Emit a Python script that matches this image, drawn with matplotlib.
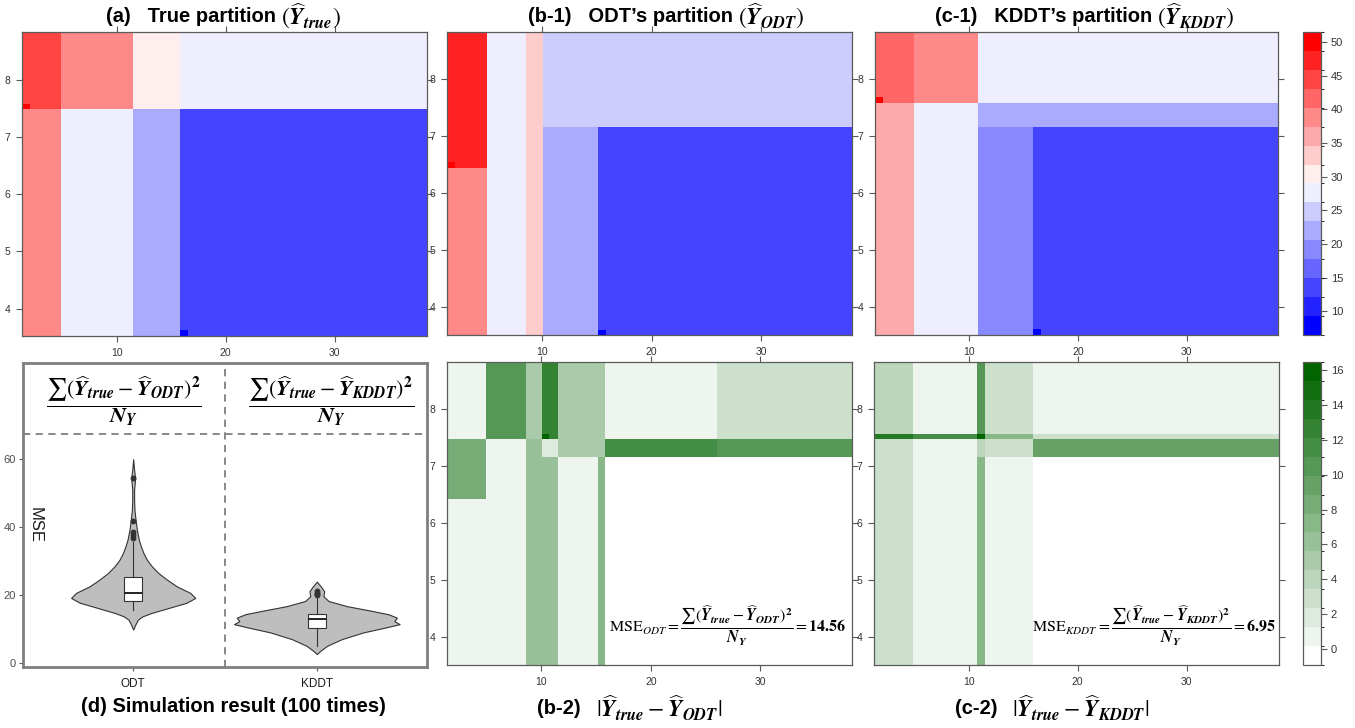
import matplotlib
matplotlib.use("Agg")
import matplotlib.pyplot as plt
import numpy as np
from matplotlib.cm import ScalarMappable
from matplotlib.colors import BoundaryNorm, LinearSegmentedColormap, ListedColormap

plt.rcParams["font.family"] = ["Liberation Sans", "DejaVu Sans"]
plt.rcParams["mathtext.fontset"] = "stix"

W, H = 1355, 728

# --- Partition maps (cell edges + values, rows bottom -> top) -------------
TRUE_X = [1.31, 2.07, 4.92, 11.5, 15.84, 16.5, 38.47]
TRUE_Y = [3.52, 3.62, 7.48, 7.57, 8.83]
TRUE_Z = [
    [39, 39, 27.5, 22, 8, 13.5],
    [39, 39, 27.5, 22, 13.5, 13.5],
    [50.5, 44.5, 39, 30.5, 27.5, 27.5],
    [44.5, 44.5, 39, 30.5, 27.5, 27.5],
]

ODT_X = [1.32, 2.05, 4.95, 8.57, 10.06, 15.14, 15.8, 38.3]
ODT_Y = [3.51, 3.6, 6.44, 6.54, 7.17, 8.83]
ODT_Z = [
    [39, 39, 27.5, 33, 22, 8, 13.5],
    [39, 39, 27.5, 33, 22, 13.5, 13.5],
    [50.5, 47, 27.5, 33, 22, 13.5, 13.5],
    [47, 47, 27.5, 33, 22, 13.5, 13.5],
    [47, 47, 27.5, 33, 25, 25, 25],
]

KDDT_X = [1.38, 2.1, 5.0, 10.8, 15.86, 16.6, 38.37]
KDDT_Y = [3.51, 3.61, 7.17, 7.59, 7.69, 8.83]
KDDT_Z = [
    [36, 36, 27.5, 19, 8, 13.5],
    [36, 36, 27.5, 19, 13.5, 13.5],
    [36, 36, 27.5, 22, 22, 22],
    [50.5, 41.5, 39, 27.5, 27.5, 27.5],
    [41.5, 41.5, 39, 27.5, 27.5, 27.5],
]

# |Y_true - Y_ODT|
DODT_X = [1.385, 4.97, 8.6, 10.06, 10.73, 11.53, 15.19, 15.83, 26.07, 38.37]
DODT_Y = [3.51, 6.43, 7.16, 7.48, 7.57, 8.83]
DODT_Z = [
    [0.7, 0.7, 6.1, 6.1, 6.1, 0.7, 7.2, 0, 0],
    [8.3, 0.7, 6.1, 6.1, 6.1, 0.7, 7.2, 0, 0],
    [8.3, 0.7, 6.1, 1.8, 1.8, 5.0, 5.0, 11.5, 10.5],
    [0.7, 10.5, 5.0, 15.9, 12.6, 5.0, 5.0, 0.7, 2.9],
    [0.7, 10.5, 5.0, 12.6, 12.6, 5.0, 5.0, 0.7, 2.9],
]

# |Y_true - Y_KDDT|
DKDDT_X = [1.31, 4.93, 10.76, 11.53, 15.87, 38.47]
DKDDT_Y = [3.51, 7.16, 7.48, 7.57, 8.83]
DKDDT_Z = [
    [2.9, 0.7, 7.2, 0.7, 0],
    [2.9, 0.7, 4.0, 2.9, 9.4],
    [13.7, 11.5, 15.9, 7.2, 2.9],
    [4.0, 0.7, 10.5, 2.9, 0.7],
]

# colour scale breaks (lattice style, 16 levels)
RED_RANGE = (6.5, 51.5)
GREEN_RANGE = (-0.9, 16.45)
N_LEVELS = 16

# --- Simulation result (violin outline) -----------------------------------
CATS = ["ODT", "KDDT"]
ODT_VY = [9.7, 11.1, 12.6, 13.6, 14.6, 15.6, 16.6, 17.6, 19.0, 20.5, 22.4, 24.4,
          26.3, 28.3, 30.2, 32.2, 34.2, 36.1, 39.1, 42.0, 44.9, 47.9, 50.8,
          52.5, 54.2, 56.7, 59.8]
ODT_HW = [0, 0.011, 0.025, 0.051, 0.1, 0.164, 0.227, 0.291, 0.338, 0.311, 0.238,
          0.184, 0.138, 0.102, 0.075, 0.056, 0.042, 0.031, 0.02, 0.013, 0.007,
          0.005, 0.005, 0.008, 0.011, 0.005, 0]
KDDT_VY = [2.5, 3.4, 4.9, 6.9, 8.9, 10.3, 11.3, 12.2, 13.2, 14.2, 15.2, 16.6,
           18.1, 19.5, 21.0, 22.4, 23.8]
KDDT_HW = [0, 0.018, 0.055, 0.136, 0.255, 0.373, 0.451, 0.422, 0.436, 0.391,
           0.3, 0.164, 0.064, 0.036, 0.04, 0.022, 0]
BOX_STATS = [
    dict(whislo=15.5, q1=18.1, med=20.6, q3=25.1, whishi=35.5,
         fliers=[36.6, 37.5, 38.5, 41.7, 54.2]),
    dict(whislo=5.0, q1=10.3, med=12.8, q3=14.2, whishi=19.0,
         fliers=[19.8, 20.2, 20.6, 21.0]),
]

MSE_ODT, MSE_KDDT = "14.56", "6.95"

# --- Helpers ----------------------------------------------------------------
fig = plt.figure(figsize=(W / 100, H / 100), dpi=100)


def rect(l, t, r, b):
    return [l / W, 1 - b / H, (r - l) / W, (b - t) / H]


def levels(rng):
    return np.linspace(rng[0], rng[1], N_LEVELS + 1)


red_cmap = ListedColormap(
    LinearSegmentedColormap.from_list("bwr16", ["#0000FF", "#FFFFFF", "#FF0000"])(
        np.linspace(0, 1, N_LEVELS)))
green_cmap = ListedColormap(
    LinearSegmentedColormap.from_list("wg16", ["#FFFFFF", "#006400"])(
        np.linspace(0, 1, N_LEVELS)))
red_norm = BoundaryNorm(levels(RED_RANGE), N_LEVELS)
green_norm = BoundaryNorm(levels(GREEN_RANGE), N_LEVELS)

FRAME = "#5A5A5A"
TXT = "#333333"


def draw_map(box, xe, ye, z, cmap, norm):
    ax = fig.add_axes(rect(*box))
    ax.pcolormesh(xe, ye, np.asarray(z, dtype=float), cmap=cmap, norm=norm,
                  shading="flat", antialiased=False, edgecolors="face",
                  linewidth=0)
    ax.set_xlim(xe[0], xe[-1])
    ax.set_ylim(ye[0], ye[-1])
    ax.set_xticks([10, 20, 30])
    ax.set_yticks([4, 5, 6, 7, 8])
    ax.tick_params(direction="out", length=4.5, width=0.8, color=FRAME,
                   labelsize=7.5, labelcolor=TXT, top=True, right=True, pad=4)
    for s in ax.spines.values():
        s.set_color(FRAME)
        s.set_linewidth(0.9)
    return ax


def draw_cbar(box, cmap, norm, ticks):
    cax = fig.add_axes(rect(*box))
    cb = fig.colorbar(ScalarMappable(norm=norm, cmap=cmap), cax=cax, ticks=ticks)
    cb.outline.set_edgecolor(FRAME)
    cb.outline.set_linewidth(0.9)
    cax.tick_params(length=4, width=0.8, color=FRAME, labelsize=8,
                    labelcolor=TXT, pad=3)


def hat(s):
    return r"\widehat{\mathbfit{Y}}_{\mathbfit{" + s + "}}"


def frac(sub):
    num = r"\sum(" + hat("true") + "-" + hat(sub) + r")^{\mathbf{2}}"
    return r"\dfrac{" + num + r"}{\mathbfit{N}_{\mathbfit{Y}}}"


# --- Top row: partitions ----------------------------------------------------
draw_map((22, 32, 427, 336), TRUE_X, TRUE_Y, TRUE_Z, red_cmap, red_norm)
draw_map((447, 32, 852, 335), ODT_X, ODT_Y, ODT_Z, red_cmap, red_norm)
draw_map((875, 32, 1278, 335), KDDT_X, KDDT_Y, KDDT_Z, red_cmap, red_norm)
draw_cbar((1303, 32, 1321, 335), red_cmap, red_norm, list(range(10, 51, 5)))

# --- Bottom row: absolute differences --------------------------------------
ax_b2 = draw_map((447, 362, 852, 665), DODT_X, DODT_Y, DODT_Z,
                 green_cmap, green_norm)
ax_c2 = draw_map((874, 362, 1279, 665), DKDDT_X, DKDDT_Y, DKDDT_Z,
                 green_cmap, green_norm)
draw_cbar((1303, 362, 1321, 665), green_cmap, green_norm, list(range(0, 17, 2)))

ax_b2.text(37.9, 4.2, r"$\mathrm{MSE}_{ODT} = " + frac("ODT") +
           r" = \mathbf{" + MSE_ODT + "}$", ha="right", va="center", fontsize=11.5)
ax_c2.text(38.25, 4.2, r"$\mathrm{MSE}_{KDDT} = " + frac("KDDT") +
           r" = \mathbf{" + MSE_KDDT + "}$", ha="right", va="center", fontsize=11.5)

# --- (d) violin plot ---------------------------------------------------------
ax_d = fig.add_axes(rect(23, 363, 427, 667))
for pos, vy, hw in [(1, ODT_VY, ODT_HW), (2, KDDT_VY, KDDT_HW)]:
    hw = np.asarray(hw)
    ax_d.fill_betweenx(vy, pos - hw, pos + hw, facecolor="#BEBEBE",
                       edgecolor="#333333", linewidth=0.8, zorder=1)
ax_d.bxp(BOX_STATS, positions=[1, 2], widths=0.1, patch_artist=True,
         showcaps=False,
         boxprops=dict(facecolor="white", edgecolor="#333333", linewidth=0.8),
         medianprops=dict(color="#222222", linewidth=1.4),
         whiskerprops=dict(color="#333333", linewidth=0.8),
         flierprops=dict(marker="o", markersize=3.2, markerfacecolor="#333333",
                         markeredgecolor="#333333"))
ax_d.axhline(67.3, color="#7F7F7F", linestyle=(0, (4, 3)), linewidth=1.3)
ax_d.axvline(1.5, color="#7F7F7F", linestyle=(0, (4, 3)), linewidth=1.3)
ax_d.set_xlim(0.4, 2.6)
ax_d.set_ylim(-1.3, 88.1)
ax_d.set_xticks([1, 2])
ax_d.set_xticklabels(CATS)
ax_d.set_yticks([0, 20, 40, 60])
ax_d.tick_params(axis="y", length=3, width=0.8, color="#555555", labelsize=8,
                 labelcolor="#4D4D4D", pad=2)
ax_d.tick_params(axis="x", length=3, width=0.8, color="#555555", labelsize=8.5,
                 labelcolor="#1A1A1A", pad=5)
for s in ax_d.spines.values():
    s.set_color("#7F7F7F")
    s.set_linewidth(2)
ax_d.text(0.465, 40.5, "MSE", rotation=270, ha="center", va="center",
          fontsize=12, color="#1A1A1A")
ax_d.text(0.95, 77, "$" + frac("ODT") + "$", ha="center", va="center",
          fontsize=16)
ax_d.text(2.08, 77, "$" + frac("KDDT") + "$", ha="center", va="center",
          fontsize=16)

# --- Panel titles: bold label text, then the math part ----------------------
TITLES = [
    # (x where the text ends / math starts, y centre, text, math)
    (278, 17, "(a)   True partition", "(" + hat("true") + ")"),
    (735, 17, "(b-1)   ODT\u2019s partition", "(" + hat("ODT") + ")"),
    (1154, 17, "(c-1)   KDDT\u2019s partition", "(" + hat("KDDT") + ")"),
    (593, 709, "(b-2)", "|" + hat("true") + "-" + hat("ODT") + "|"),
    (1009, 709, "(c-2)", "|" + hat("true") + "-" + hat("KDDT") + "|"),
]
for x, y, s, m in TITLES:
    gap = 12 if y > 400 else 2
    fig.text((x - gap) / W, 1 - y / H, s, ha="right", va="center",
             fontsize=14.5, fontweight="bold", color="black")
    fig.text((x + 3) / W, 1 - (y - 1) / H, "$" + m + "$", ha="left",
             va="center", fontsize=17, color="black")
fig.text(233 / W, 1 - 707 / H, "(d) Simulation result (100 times)",
         ha="center", va="center", fontsize=14.5, fontweight="bold")

fig.savefig("out.png", dpi=100)
